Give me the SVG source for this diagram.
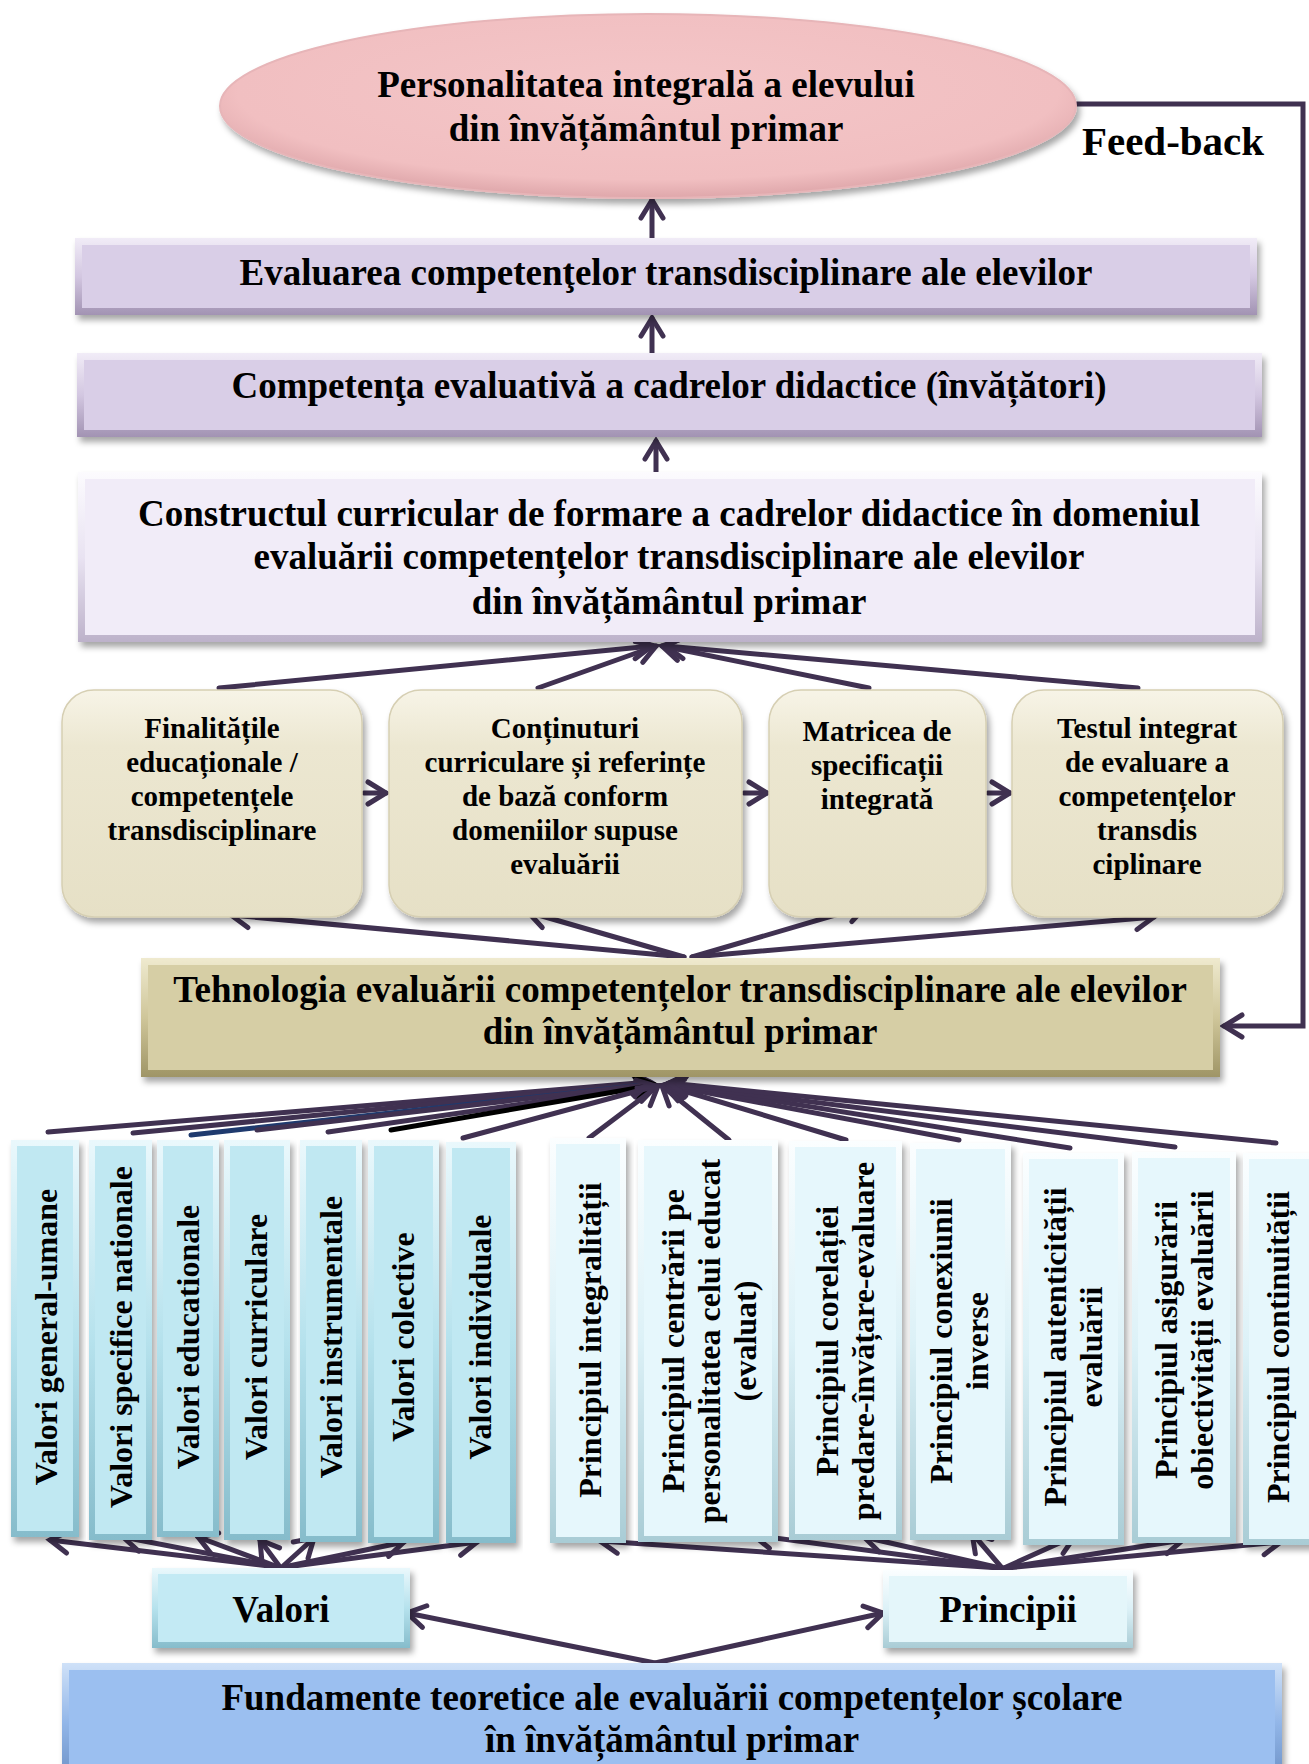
<svg xmlns="http://www.w3.org/2000/svg" width="1309" height="1764" viewBox="0 0 1309 1764">
<defs>
<style>
.t{font-family:"Liberation Serif","Times New Roman",serif;font-weight:bold;fill:#000;text-anchor:middle}
.h{font-size:37px}
.b{font-size:29px}
.v{font-size:32px}
.c{stroke:#403151;stroke-width:5;fill:none;stroke-linecap:round}
</style>
<filter id="sh" x="-10%" y="-10%" width="120%" height="130%">
<feDropShadow dx="3" dy="5" stdDeviation="3" flood-color="#000" flood-opacity="0.35"/>
</filter>
<marker id="ah" viewBox="0 0 28 28" refX="23" refY="14" markerWidth="28" markerHeight="28" markerUnits="userSpaceOnUse" orient="auto">
<path d="M5,3 L23,14 L5,25" fill="none" stroke="#403151" stroke-width="5" stroke-linecap="round"/>
</marker>
<marker id="ahk" viewBox="0 0 28 28" refX="23" refY="14" markerWidth="28" markerHeight="28" markerUnits="userSpaceOnUse" orient="auto">
<path d="M5,3 L23,14 L5,25" fill="none" stroke="#000" stroke-width="5" stroke-linecap="round"/>
</marker>
<radialGradient id="gEl" cx="0.5" cy="0.42" r="0.6">
<stop offset="0" stop-color="#f4c6c8"/><stop offset="0.8" stop-color="#f1bfc1"/><stop offset="1" stop-color="#dba2a6"/>
</radialGradient>
<linearGradient id="eLav" x1="0" y1="0" x2="0" y2="1"><stop offset="0" stop-color="#f1ecf7"/><stop offset="0.5" stop-color="#d3c7e1"/><stop offset="1" stop-color="#a293b3"/></linearGradient>
<linearGradient id="eLavL" x1="0" y1="0" x2="0" y2="1"><stop offset="0" stop-color="#fcfbfe"/><stop offset="0.5" stop-color="#e9e3f2"/><stop offset="1" stop-color="#bdb2ca"/></linearGradient>
<linearGradient id="eKh" x1="0" y1="0" x2="0" y2="1"><stop offset="0" stop-color="#efeacf"/><stop offset="0.5" stop-color="#cfc69a"/><stop offset="1" stop-color="#9f9566"/></linearGradient>
<linearGradient id="eCy" x1="0" y1="0" x2="0" y2="1"><stop offset="0" stop-color="#eaf8fc"/><stop offset="0.5" stop-color="#b6e2ed"/><stop offset="1" stop-color="#86bccb"/></linearGradient>
<linearGradient id="eCyL" x1="0" y1="0" x2="0" y2="1"><stop offset="0" stop-color="#fbfeff"/><stop offset="0.5" stop-color="#dcf1f7"/><stop offset="1" stop-color="#a9ccd5"/></linearGradient>
<linearGradient id="eBl" x1="0" y1="0" x2="0" y2="1"><stop offset="0" stop-color="#cfe1f8"/><stop offset="0.5" stop-color="#92b6e8"/><stop offset="1" stop-color="#6a8fc4"/></linearGradient>
<linearGradient id="gCr" x1="0" y1="0" x2="0" y2="1"><stop offset="0" stop-color="#f7f4e7"/><stop offset="0.25" stop-color="#ece7d1"/><stop offset="1" stop-color="#e6e0c6"/></linearGradient>
</defs>

<!-- connectors -->
<g id="connectors">
<polyline class="c" points="1074,104 1303,104 1303,1026 1224,1026" marker-end="url(#ah)"/>
<line class="c" x1="652" y1="238" x2="652" y2="200" marker-end="url(#ah)"/>
<line class="c" x1="652" y1="353" x2="652" y2="318" marker-end="url(#ah)"/>
<line class="c" x1="656" y1="472" x2="656" y2="441" marker-end="url(#ah)"/>
<line class="c" x1="219" y1="688" x2="652" y2="646" marker-end="url(#ah)"/>
<line class="c" x1="538" y1="688" x2="656" y2="646" marker-end="url(#ah)"/>
<line class="c" x1="869" y1="688" x2="662" y2="646" marker-end="url(#ah)"/>
<line class="c" x1="1138" y1="688" x2="666" y2="646" marker-end="url(#ah)"/>
<line class="c" x1="364" y1="793" x2="386" y2="793" marker-end="url(#ah)"/>
<line class="c" x1="744" y1="793" x2="767" y2="793" marker-end="url(#ah)"/>
<line class="c" x1="988" y1="793" x2="1010" y2="793" marker-end="url(#ah)"/>
<line class="c" x1="684" y1="957" x2="231" y2="915" marker-end="url(#ah)"/>
<line class="c" x1="684" y1="957" x2="528" y2="912" marker-end="url(#ah)"/>
<line class="c" x1="692" y1="957" x2="866" y2="906" marker-end="url(#ah)"/>
<line class="c" x1="692" y1="957" x2="1154" y2="917" marker-end="url(#ah)"/>
<line class="c" x1="48" y1="1132" x2="650" y2="1082" marker-end="url(#ah)"/>
<line class="c" x1="133" y1="1133" x2="651" y2="1083" marker-end="url(#ah)"/>
<line class="c" x1="191" y1="1135" x2="652" y2="1084" marker-end="url(#ah)" style="stroke:#1f3a6e"/>
<line class="c" x1="257" y1="1130" x2="653" y2="1084" marker-end="url(#ah)"/>
<line class="c" x1="328" y1="1132" x2="654" y2="1085" marker-end="url(#ah)"/>
<line class="c" x1="391" y1="1130" x2="655" y2="1085" marker-end="url(#ahk)" style="stroke:#000"/>
<line class="c" x1="463" y1="1138" x2="656" y2="1086" marker-end="url(#ah)"/>
<line class="c" x1="589" y1="1138" x2="658" y2="1086" marker-end="url(#ah)"/>
<line class="c" x1="729" y1="1140" x2="662" y2="1086" marker-end="url(#ah)"/>
<line class="c" x1="846" y1="1140" x2="664" y2="1085" marker-end="url(#ah)"/>
<line class="c" x1="959" y1="1140" x2="666" y2="1085" marker-end="url(#ah)"/>
<line class="c" x1="1070" y1="1148" x2="667" y2="1084" marker-end="url(#ah)"/>
<line class="c" x1="1175" y1="1147" x2="668" y2="1084" marker-end="url(#ah)"/>
<line class="c" x1="1276" y1="1143" x2="669" y2="1083" marker-end="url(#ah)"/>
<line class="c" x1="278" y1="1567" x2="50" y2="1540" marker-end="url(#ah)"/>
<line class="c" x1="278" y1="1567" x2="123" y2="1537" marker-end="url(#ah)"/>
<line class="c" x1="278" y1="1567" x2="198" y2="1537" marker-end="url(#ah)"/>
<line class="c" x1="280" y1="1567" x2="260" y2="1540" marker-end="url(#ah)"/>
<line class="c" x1="282" y1="1567" x2="314" y2="1538" marker-end="url(#ah)"/>
<line class="c" x1="284" y1="1567" x2="404" y2="1542" marker-end="url(#ah)"/>
<line class="c" x1="286" y1="1567" x2="477" y2="1542" marker-end="url(#ah)"/>
<line class="c" x1="1000" y1="1568" x2="600" y2="1541" marker-end="url(#ah)"/>
<line class="c" x1="1000" y1="1568" x2="753" y2="1535" marker-end="url(#ah)"/>
<line class="c" x1="1000" y1="1568" x2="864" y2="1537" marker-end="url(#ah)"/>
<line class="c" x1="1002" y1="1568" x2="972" y2="1533" marker-end="url(#ah)"/>
<line class="c" x1="1004" y1="1568" x2="1075" y2="1536" marker-end="url(#ah)"/>
<line class="c" x1="1004" y1="1568" x2="1183" y2="1540" marker-end="url(#ah)"/>
<line class="c" x1="1006" y1="1568" x2="1281" y2="1542" marker-end="url(#ah)"/>
<line class="c" x1="655" y1="1663" x2="407" y2="1613" marker-end="url(#ah)"/>
<line class="c" x1="655" y1="1663" x2="883" y2="1613" marker-end="url(#ah)"/>
</g>

<g id="n-personalitate">
<ellipse cx="648" cy="106" rx="428" ry="92" fill="url(#gEl)" stroke="#e7b5b8" stroke-width="2" filter="url(#sh)"/>
<text class="t h" x="646" y="97">Personalitatea integrală a elevului</text>
<text class="t h" x="646" y="141">din învățământul primar</text>
</g>
<g id="n-feedback">
<text class="t" x="1173" y="155" style="font-size:41px">Feed-back</text>
</g>

<g id="n-evaluarea">
<rect x="75" y="238" width="1182" height="77" fill="url(#eLav)" filter="url(#sh)"/>
<rect x="82" y="245" width="1168" height="63" fill="#d9cee7"/>
<text class="t h" x="666" y="285">Evaluarea competenţelor transdisciplinare ale elevilor</text>
</g>

<g id="n-competenta">
<rect x="77" y="353" width="1185" height="84" fill="url(#eLav)" filter="url(#sh)"/>
<rect x="84" y="360" width="1171" height="70" fill="#d9cee7"/>
<text class="t h" x="669" y="398">Competenţa evaluativă a cadrelor didactice (învățători)</text>
</g>

<g id="n-constructul">
<rect x="78" y="472" width="1184" height="170" fill="url(#eLavL)" filter="url(#sh)"/>
<rect x="85" y="479" width="1170" height="156" fill="#f1ecf8"/>
<text class="t h" x="669" y="526">Constructul curricular de formare a cadrelor didactice în domeniul</text>
<text class="t h" x="669" y="569">evaluării competențelor transdisciplinare ale elevilor</text>
<text class="t h" x="669" y="614">din învățământul primar</text>
</g>

<g id="n-finalitati">
<rect x="62" y="690" width="300" height="227" rx="32" fill="url(#gCr)" stroke="#d6cfb3" stroke-width="1.5" filter="url(#sh)"/>
<text class="t b" x="212" y="738">Finalitățile</text>
<text class="t b" x="212" y="772">educaționale /</text>
<text class="t b" x="212" y="806">competențele</text>
<text class="t b" x="212" y="840">transdisciplinare</text>
</g>
<g id="n-continuturi">
<rect x="389" y="690" width="353" height="227" rx="32" fill="url(#gCr)" stroke="#d6cfb3" stroke-width="1.5" filter="url(#sh)"/>
<text class="t b" x="565" y="738">Conținuturi</text>
<text class="t b" x="565" y="772">curriculare și referințe</text>
<text class="t b" x="565" y="806">de bază conform</text>
<text class="t b" x="565" y="840">domeniilor supuse</text>
<text class="t b" x="565" y="874">evaluării</text>
</g>
<g id="n-matricea">
<rect x="769" y="690" width="217" height="227" rx="32" fill="url(#gCr)" stroke="#d6cfb3" stroke-width="1.5" filter="url(#sh)"/>
<text class="t b" x="877" y="741">Matricea de</text>
<text class="t b" x="877" y="775">specificații</text>
<text class="t b" x="877" y="809">integrată</text>
</g>
<g id="n-testul">
<rect x="1012" y="690" width="271" height="227" rx="32" fill="url(#gCr)" stroke="#d6cfb3" stroke-width="1.5" filter="url(#sh)"/>
<text class="t b" x="1147" y="738">Testul integrat</text>
<text class="t b" x="1147" y="772">de evaluare a</text>
<text class="t b" x="1147" y="806">competențelor</text>
<text class="t b" x="1147" y="840">transdis</text>
<text class="t b" x="1147" y="874">ciplinare</text>
</g>

<g id="n-tehnologia">
<rect x="141" y="958" width="1079" height="119" fill="url(#eKh)" filter="url(#sh)"/>
<rect x="148" y="965" width="1065" height="105" fill="#d6cea5"/>
<text class="t h" x="680" y="1002">Tehnologia evaluării competențelor transdisciplinare ale elevilor</text>
<text class="t h" x="680" y="1044">din învățământul primar</text>
</g>

<g id="n-valori-cols">
<g id="v1"><rect x="11" y="1140" width="68" height="397" fill="url(#eCy)" filter="url(#sh)"/><rect x="17" y="1146" width="56" height="385" fill="#c0e8f2"/>
<text class="t v" transform="translate(57,1337) rotate(-90)">Valori general-umane</text></g>
<g id="v2"><rect x="89" y="1140" width="63" height="400" fill="url(#eCy)" filter="url(#sh)"/><rect x="95" y="1146" width="51" height="388" fill="#c0e8f2"/>
<text class="t v" transform="translate(132,1337) rotate(-90)">Valori specifice nationale</text></g>
<g id="v3"><rect x="157" y="1140" width="62" height="397" fill="url(#eCy)" filter="url(#sh)"/><rect x="163" y="1146" width="50" height="385" fill="#c0e8f2"/>
<text class="t v" transform="translate(199,1337) rotate(-90)">Valori educationale</text></g>
<g id="v4"><rect x="224" y="1140" width="66" height="400" fill="url(#eCy)" filter="url(#sh)"/><rect x="230" y="1146" width="54" height="388" fill="#c0e8f2"/>
<text class="t v" transform="translate(267,1337) rotate(-90)">Valori curriculare</text></g>
<g id="v5"><rect x="300" y="1140" width="62" height="402" fill="url(#eCy)" filter="url(#sh)"/><rect x="306" y="1146" width="50" height="390" fill="#c0e8f2"/>
<text class="t v" transform="translate(342,1337) rotate(-90)">Valori instrumentale</text></g>
<g id="v6"><rect x="368" y="1140" width="71" height="403" fill="url(#eCy)" filter="url(#sh)"/><rect x="374" y="1146" width="59" height="391" fill="#c0e8f2"/>
<text class="t v" transform="translate(414,1337) rotate(-90)">Valori colective</text></g>
<g id="v7"><rect x="446" y="1142" width="70" height="401" fill="url(#eCy)" filter="url(#sh)"/><rect x="452" y="1148" width="58" height="389" fill="#c0e8f2"/>
<text class="t v" transform="translate(491,1337) rotate(-90)">Valori individuale</text></g>
</g>

<g id="n-principii-cols">
<g id="p1"><rect x="550" y="1138" width="76" height="405" fill="url(#eCyL)" filter="url(#sh)"/><rect x="556" y="1144" width="64" height="393" fill="#e6f7fc"/>
<text class="t v" transform="translate(601,1340) rotate(-90)">Principiul integralității</text></g>
<g id="p2"><rect x="638" y="1140" width="140" height="402" fill="url(#eCyL)" filter="url(#sh)"/><rect x="644" y="1146" width="128" height="390" fill="#e6f7fc"/>
<text class="t v" transform="translate(684,1341) rotate(-90)"><tspan x="0" y="0">Principiul centrării pe</tspan><tspan x="0" y="36">personalitatea celui educat</tspan><tspan x="0" y="72">(evaluat)</tspan></text></g>
<g id="p3"><rect x="789" y="1141" width="113" height="399" fill="url(#eCyL)" filter="url(#sh)"/><rect x="795" y="1147" width="101" height="387" fill="#e6f7fc"/>
<text class="t v" transform="translate(838,1341) rotate(-90)"><tspan x="0" y="0">Principiul corelației</tspan><tspan x="0" y="36">predare-învățare-evaluare</tspan></text></g>
<g id="p4"><rect x="910" y="1143" width="101" height="397" fill="url(#eCyL)" filter="url(#sh)"/><rect x="916" y="1149" width="89" height="385" fill="#e6f7fc"/>
<text class="t v" transform="translate(952,1341) rotate(-90)"><tspan x="0" y="0">Principiul conexiunii</tspan><tspan x="0" y="36">inverse</tspan></text></g>
<g id="p5"><rect x="1023" y="1153" width="101" height="392" fill="url(#eCyL)" filter="url(#sh)"/><rect x="1029" y="1159" width="89" height="380" fill="#e6f7fc"/>
<text class="t v" transform="translate(1066,1347) rotate(-90)"><tspan x="0" y="0">Principiul autenticității</tspan><tspan x="0" y="36">evaluării</tspan></text></g>
<g id="p6"><rect x="1132" y="1152" width="104" height="391" fill="url(#eCyL)" filter="url(#sh)"/><rect x="1138" y="1158" width="92" height="379" fill="#e6f7fc"/>
<text class="t v" transform="translate(1177,1340) rotate(-90)"><tspan x="0" y="0">Principiul asigurării</tspan><tspan x="0" y="36">obiectivității evaluării</tspan></text></g>
<g id="p7"><rect x="1243" y="1153" width="80" height="392" fill="url(#eCyL)" filter="url(#sh)"/><rect x="1249" y="1159" width="68" height="380" fill="#e6f7fc"/>
<text class="t v" transform="translate(1289,1347) rotate(-90)">Principiul continuității</text></g>
</g>

<g id="n-valori">
<rect x="152" y="1568" width="258" height="80" fill="url(#eCy)" filter="url(#sh)"/>
<rect x="158" y="1574" width="246" height="68" fill="#c3eaf4"/>
<text class="t h" x="281" y="1622">Valori</text>
</g>
<g id="n-principii">
<rect x="883" y="1570" width="250" height="78" fill="url(#eCyL)" filter="url(#sh)"/>
<rect x="889" y="1576" width="238" height="66" fill="#e4f6fa"/>
<text class="t h" x="1008" y="1622">Principii</text>
</g>

<g id="n-fundamente">
<rect x="62" y="1663" width="1220" height="120" fill="url(#eBl)" filter="url(#sh)"/>
<rect x="69" y="1670" width="1206" height="110" fill="#9bbff0"/>
<text class="t h" x="672" y="1710">Fundamente teoretice ale evaluării competențelor școlare</text>
<text class="t h" x="672" y="1752">în învățământul primar</text>
</g>
</svg>
